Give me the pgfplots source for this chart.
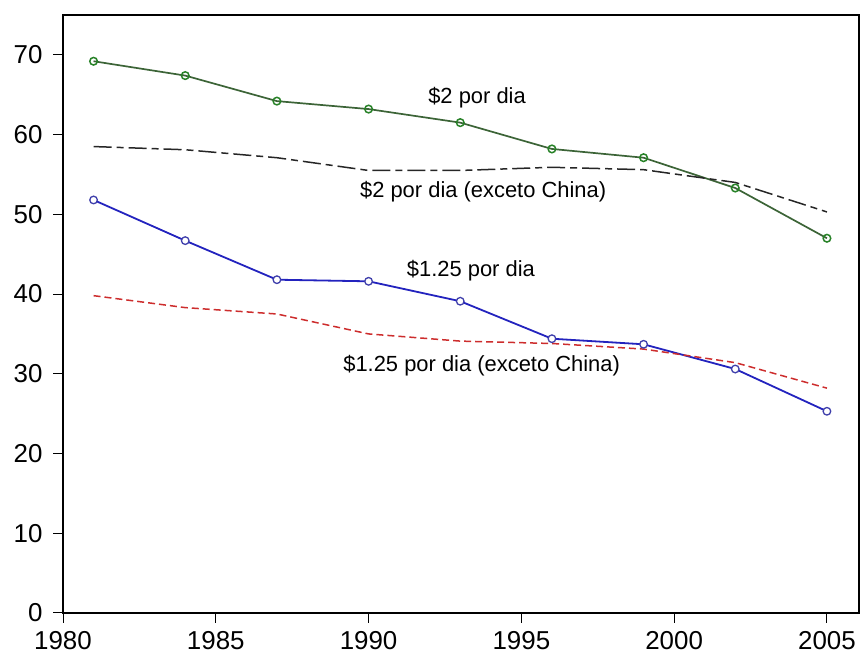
\documentclass[border=0pt]{standalone}
\usepackage{pgfplots}
\pgfplotsset{compat=1.18}
\usepackage{fontspec}
\setmainfont{Liberation Sans}
\definecolor{cgreen}{RGB}{40,130,40}
\definecolor{cgline}{RGB}{60,100,55}
\definecolor{cblue}{RGB}{35,35,190}
\definecolor{cred}{RGB}{205,45,45}
\begin{document}
\begin{tikzpicture}[x=1bp,y=1bp]
\path[use as bounding box] (0,0) rectangle (862,655);
\begin{axis}[
  at={(63bp,42bp)}, anchor=south west,
  width=796bp, height=598bp, scale only axis,
  xmin=1980, xmax=2006.05, ymin=0, ymax=75,
  xtick={1980,1985,...,2005}, ytick={0,10,...,70},
  tick align=outside, tick pos=left,
  major tick length=10bp,
  axis line style={line width=1.2bp},
  tick style={line width=1bp, black},
  ticklabel style={font=\fontsize{26}{27}\selectfont},
  yticklabel style={xshift=-7bp},
  xticklabel style={yshift=-5bp},
  /pgf/number format/assume math mode=true,
  /pgf/number format/1000 sep={},
  clip=false,
]
\addplot[cgline, line width=1.7bp, mark=o, mark size=3.8bp, mark options={draw=cgreen, line width=1.5bp, solid}]
 coordinates {(1981,69.2)(1984,67.4)(1987,64.2)(1990,63.2)(1993,61.5)(1996,58.2)(1999,57.1)(2002,53.3)(2005,47.0)};
\addplot[black!85, line width=1.5bp, dash pattern=on 18bp off 5bp on 7bp off 5bp]
 coordinates {(1981,58.5)(1984,58.1)(1987,57.1)(1990,55.5)(1993,55.5)(1996,55.9)(1999,55.6)(2002,54.0)(2005,50.3)};
\addplot[cblue, line width=1.8bp, mark=*, mark size=3.8bp, mark options={fill=white, draw=cblue!70!gray, line width=1.3bp, solid}]
 coordinates {(1981,51.8)(1984,46.7)(1987,41.8)(1990,41.6)(1993,39.1)(1996,34.4)(1999,33.7)(2002,30.6)(2005,25.3)};
\addplot[cred, line width=1.5bp, dash pattern=on 7bp off 4bp]
 coordinates {(1981,39.8)(1984,38.3)(1987,37.5)(1990,35.0)(1993,34.1)(1996,33.8)(1999,33.1)(2002,31.4)(2005,28.2)};
\node[font=\fontsize{22}{24}\selectfont] at (axis cs:1993.55,64.6) {\$2 por dia};
\node[font=\fontsize{22}{24}\selectfont] at (axis cs:1993.75,52.8) {\$2 por dia (exceto China)};
\node[font=\fontsize{22}{24}\selectfont] at (axis cs:1993.35,42.9) {\$1.25 por dia};
\node[font=\fontsize{22}{24}\selectfont] at (axis cs:1993.7,31.0) {\$1.25 por dia (exceto China)};
\end{axis}
\end{tikzpicture}
\end{document}
